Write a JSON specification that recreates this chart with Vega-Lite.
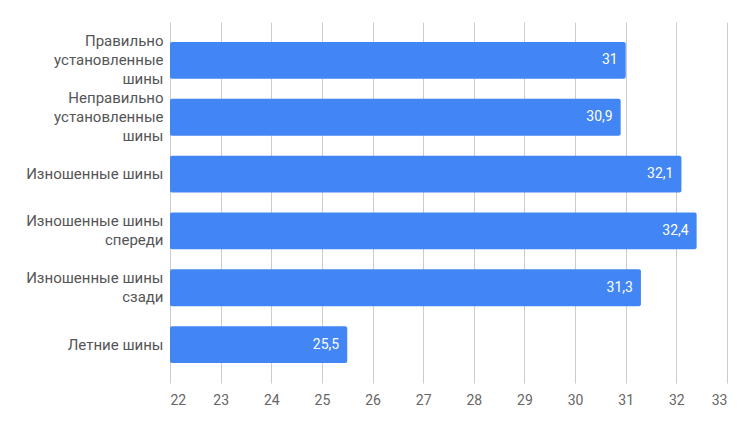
{
  "$schema": "https://vega.github.io/schema/vega-lite/v6.json",
  "autosize": {"type": "none"},
  "padding": {"left": 170, "top": 22, "right": 23, "bottom": 48},
  "width": 557,
  "height": 361,
  "background": "white",
  "data": {
    "values": [
      {"category": "Правильно\nустановленные\nшины", "value": 31, "label": "31"},
      {"category": "Неправильно\nустановленные\nшины", "value": 30.9, "label": "30,9"},
      {"category": "Изношенные шины", "value": 32.1, "label": "32,1"},
      {"category": "Изношенные шины\nспереди", "value": 32.4, "label": "32,4"},
      {"category": "Изношенные шины\nсзади", "value": 31.3, "label": "31,3"},
      {"category": "Летние шины", "value": 25.5, "label": "25,5"}
    ]
  },
  "encoding": {
    "y": {
      "field": "category",
      "type": "nominal",
      "sort": null,
      "title": null,
      "scale": {"paddingInner": 0.352, "paddingOuter": 0.352},
      "axis": {
        "domain": false,
        "ticks": false,
        "labelExpr": "split(datum.value, '\\n')",
        "labelLineHeight": 19,
        "labelPadding": 7,
        "labelFontSize": 15,
        "labelColor": "#555555",
        "labelFont": "Roboto",
        "labelLimit": 200,
        "labelOffset": {
          "condition": [
            {"test": "length(split(datum.value, '\\n')) == 3", "value": -19},
            {"test": "length(split(datum.value, '\\n')) == 2", "value": -9.5}
          ],
          "value": 0
        }
      }
    },
    "x": {
      "field": "value",
      "type": "quantitative",
      "title": null,
      "scale": {"domain": [22, 33], "nice": false, "zero": false},
      "axis": {
        "values": [22, 23, 24, 25, 26, 27, 28, 29, 30, 31, 32, 33],
        "domain": false,
        "ticks": false,
        "grid": true,
        "gridColor": "#cccccc",
        "labelPadding": 10,
        "labelFontSize": 14,
        "labelColor": "#666666",
        "labelFont": "Roboto"
      }
    }
  },
  "layer": [
    {
      "mark": {"type": "bar", "color": "#4285F4", "cornerRadiusEnd": 2},
      "encoding": {"x2": {"datum": 22}}
    },
    {
      "mark": {"type": "text", "align": "right", "dx": -8, "color": "white", "fontSize": 14, "font": "Roboto"},
      "encoding": {"text": {"field": "label"}}
    }
  ],
  "config": {"view": {"stroke": null}}
}
